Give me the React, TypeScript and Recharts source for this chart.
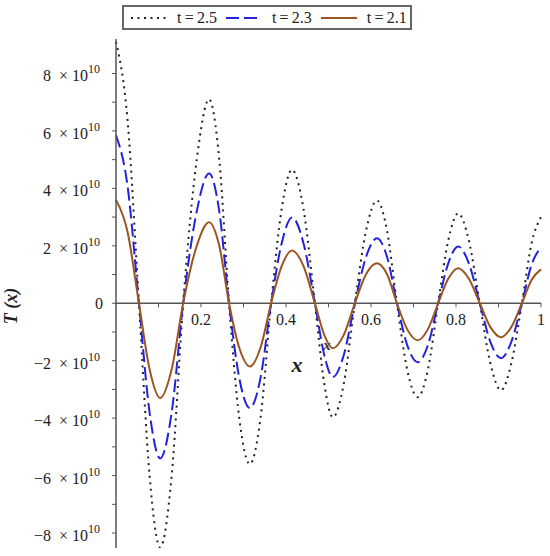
import { LineChart, Line, XAxis, YAxis, ReferenceLine } from "recharts";

// x positions (0..1)
const xValues = [
  0, 0.027, 0.054, 0.079, 0.104, 0.131, 0.158, 0.19, 0.219, 0.243, 0.266, 0.29, 0.315, 0.34,
  0.365, 0.39, 0.414, 0.441, 0.468, 0.49, 0.51, 0.536, 0.562, 0.588, 0.614, 0.638, 0.661,
  0.685, 0.71, 0.734, 0.758, 0.782, 0.805, 0.83, 0.856, 0.881, 0.906, 0.93, 0.955, 0.978, 1.0,
];

// T(x) in units of 10^10
const t25 = [
  9.1, 6.4, 0, -6.0, -8.5, -6.0, 0, 5.0, 7.1, 5.0, 0, -4.0, -5.6, -4.0, 0, 3.3, 4.65, 3.3, 0,
  -2.8, -3.97, -2.8, 0, 2.5, 3.58, 2.5, 0, -2.3, -3.27, -2.3, 0, 2.2, 3.13, 2.2, 0, -2.1, -3.03,
  -2.1, 0, 2.1, 3.0,
];
const t23 = [
  5.85, 4.1, 0, -3.8, -5.4, -3.8, 0, 3.2, 4.52, 3.2, 0, -2.6, -3.65, -2.6, 0, 2.1, 2.99, 2.1, 0,
  -1.8, -2.57, -1.8, 0, 1.6, 2.26, 1.6, 0, -1.45, -2.05, -1.45, 0, 1.4, 1.98, 1.4, 0, -1.35,
  -1.91, -1.35, 0, 1.35, 1.95,
];
const t21 = [
  3.6, 2.5, 0, -2.3, -3.3, -2.3, 0, 2.0, 2.82, 2.0, 0, -1.55, -2.2, -1.55, 0, 1.3, 1.84, 1.3, 0,
  -1.1, -1.57, -1.1, 0, 1.0, 1.39, 1.0, 0, -0.9, -1.29, -0.9, 0, 0.86, 1.22, 0.86, 0, -0.83,
  -1.18, -0.83, 0, 0.82, 1.18,
];

const xTicks = [0.1, 0.2, 0.3, 0.4, 0.5, 0.6, 0.7, 0.8, 0.9, 1];
const xTickLabels = ["", "0.2", "", "0.4", "", "0.6", "", "0.8", "", "1"];
const yTicks = [-8, -7, -6, -5, -4, -3, -2, -1, 0, 1, 2, 3, 4, 5, 6, 7, 8];

const data = xValues.map((x, i) => ({ x, t25: t25[i], t23: t23[i], t21: t21[i] }));

const W = 550;
const H = 556;
const margin = { top: 39, right: 9, bottom: 7, left: 0 };
const xAxisH = 1;
const yMin = -8.52;
const yMax = 9.2;
const serif = '"Liberation Serif", "Times New Roman", Times, serif';
const axisColor = "#555";
const ink = "#222";

// pixel row of y = 0, where the x axis sits
const plotH = H - margin.top - margin.bottom - xAxisH;
const zeroY = margin.top + (plotH * yMax) / (yMax - yMin);

const txt = { fontFamily: serif, fontSize: 16, fill: ink };

const XTick = (props: any) => {
  const { x, index } = props;
  const label = xTickLabels[index] ?? "";
  return (
    <g>
      <line x1={x} y1={zeroY} x2={x} y2={zeroY + 4} stroke={axisColor} strokeWidth={1} />
      {label && (
        <text x={x} y={zeroY + 22} textAnchor="middle" style={txt}>
          {label}
        </text>
      )}
    </g>
  );
};

const YTick = (props: any) => {
  const { x, y, payload } = props;
  const v = payload.value;
  if (v % 2 !== 0) return <g />;
  if (v === 0)
    return (
      <text x={x + 3} y={y + 6} textAnchor="end" style={txt}>
        0
      </text>
    );
  const lead = v < 0 ? `\u2212${Math.abs(v)}` : `${v}`;
  return (
    <text x={x} y={y + 8} textAnchor="end" style={{ ...txt, whiteSpace: "pre" }}>
      <tspan>{`${lead}  \u00D7 10`}</tspan>
      <tspan dy={-8} style={{ fontSize: 12 }}>
        10
      </tspan>
    </text>
  );
};

const legendItems = [
  { label: "t\u2009=\u20092.5", color: "#222", dash: "2 4.5" },
  { label: "t\u2009=\u20092.3", color: "#2222dd", dash: "13 5" },
  { label: "t\u2009=\u20092.1", color: "#9a5520", dash: "" },
];

const LegendBox = () => (
  <div
    style={{
      position: "absolute",
      left: 122,
      top: 5,
      width: 290,
      height: 25,
      display: "flex",
      alignItems: "center",
      border: "2px solid #666",
      padding: "0 6px",
      fontFamily: serif,
      fontSize: 16,
      color: ink,
      background: "#fff",
      boxSizing: "border-box",
    }}
  >
    {legendItems.map((it) => (
      <div key={it.label} style={{ display: "flex", alignItems: "center", marginRight: 8 }}>
        <svg width={38} height={6} style={{ marginRight: 9 }}>
          <line x1={1} y1={3} x2={37} y2={3} stroke={it.color} strokeWidth={2} strokeDasharray={it.dash} />
        </svg>
        <span style={{ whiteSpace: "nowrap" }}>{it.label}</span>
      </div>
    ))}
  </div>
);

export default function App() {
  return (
    <div style={{ position: "absolute", left: 0, top: 0, width: W, height: H, background: "#fff" }}>
      <LineChart width={W} height={H} data={data} margin={margin}>
        <XAxis
          dataKey="x"
          type="number"
          domain={[0, 1]}
          ticks={xTicks}
          interval={0}
          height={xAxisH}
          axisLine={false}
          tickLine={false}
          tick={<XTick />}
        />
        <YAxis
          type="number"
          domain={[yMin, yMax]}
          allowDataOverflow
          ticks={yTicks}
          interval={0}
          width={116}
          tickSize={4}
          tickMargin={12}
          axisLine={{ stroke: axisColor, strokeWidth: 1.5 }}
          tickLine={{ stroke: axisColor }}
          tick={<YTick />}
        />
        <ReferenceLine y={0} stroke={axisColor} strokeWidth={1.5} />
        <Line
          dataKey="t25"
          type="monotone"
          stroke="#222"
          strokeWidth={2}
          strokeDasharray="2 4.5"
          dot={false}
          isAnimationActive={false}
        />
        <Line
          dataKey="t23"
          type="monotone"
          stroke="#2222dd"
          strokeWidth={2}
          strokeDasharray="13 5"
          dot={false}
          isAnimationActive={false}
        />
        <Line
          dataKey="t21"
          type="monotone"
          stroke="#9a5520"
          strokeWidth={2}
          dot={false}
          isAnimationActive={false}
        />
        <text
          x={11}
          y={306}
          transform="rotate(-90 11 306)"
          textAnchor="middle"
          dominantBaseline="central"
          style={{ fontFamily: serif, fontSize: 18, fontWeight: "bold", fontStyle: "italic", fill: ink }}
        >
          T (x)
        </text>
        <text
          x={297}
          y={372}
          textAnchor="middle"
          style={{ fontFamily: serif, fontSize: 22, fontWeight: "bold", fontStyle: "italic", fill: ink }}
        >
          x
        </text>
        <text
          x={327}
          y={350}
          textAnchor="middle"
          style={{ fontFamily: serif, fontSize: 15, fontWeight: "bold", fontStyle: "italic", fill: "#333" }}
        >
          x
        </text>
      </LineChart>
      <LegendBox />
    </div>
  );
}
